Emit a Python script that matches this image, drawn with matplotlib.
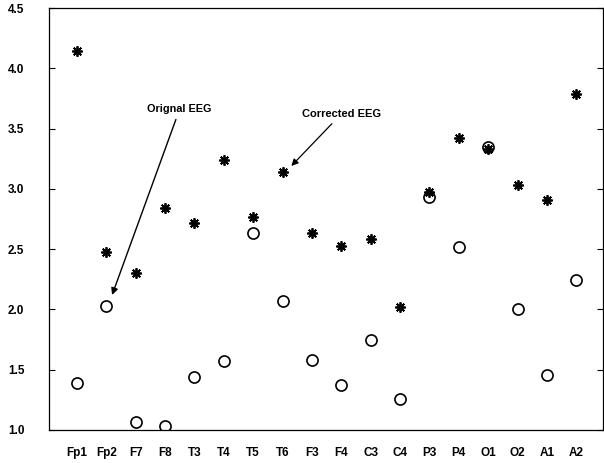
import matplotlib
matplotlib.use("Agg")
import matplotlib.pyplot as plt
import numpy as np

channels = ["Fp1", "Fp2", "F7", "F8", "T3", "T4", "T5", "T6", "F3", "F4",
            "C3", "C4", "P3", "P4", "O1", "O2", "A1", "A2"]
corrected = [4.14, 2.48, 2.30, 2.84, 2.72, 3.24, 2.77, 3.14, 2.63, 2.53,
             2.58, 2.02, 2.97, 3.42, 3.33, 3.03, 2.91, 3.79]
original = [1.39, 2.03, 1.07, 1.03, 1.44, 1.57, 2.63, 2.07, 1.58, 1.37,
            1.75, 1.26, 2.93, 2.52, 3.35, 2.00, 1.46, 2.24]
yticks = [1.0, 1.5, 2.0, 2.5, 3.0, 3.5, 4.0, 4.5]

plt.rcParams['font.family'] = ['Liberation Sans', 'DejaVu Sans']

fig = plt.figure(figsize=(6.04, 4.63), dpi=100)
ax = fig.add_axes([0.081, 0.0713, 0.917, 0.9114])

x = np.arange(len(channels))
ax.plot(x, original, linestyle='none', marker='o', markersize=8,
        markerfacecolor='none', markeredgecolor='black', markeredgewidth=1.2)
ax.plot(x, corrected, linestyle='none', marker=(8, 2, 0), markersize=7.5,
        markeredgecolor='black', markeredgewidth=1.3, color='black')

ax.set_xlim(-0.95, 17.9)
ax.set_ylim(1.0, 4.5)
ax.set_yticks(yticks)
ax.set_yticklabels([f"{v:.1f}" for v in yticks], fontsize=8.5, fontweight='bold')
ax.set_xticks(x)
ax.set_xticklabels(channels, fontsize=8.5, fontweight='bold')
ax.set_xticks(x[1::2], minor=True)
ax.tick_params(axis='x', which='major', length=0, pad=12)
ax.tick_params(axis='x', which='minor', direction='in', length=4, top=True, bottom=True)
ax.tick_params(axis='y', which='major', direction='in', length=4, left=True, right=True, pad=29.5)
for lbl in ax.get_yticklabels():
    lbl.set_horizontalalignment('left')
for s in ax.spines.values():
    s.set_linewidth(0.9)

ax.annotate("Orignal EEG", xy=(1.2, 2.12), xytext=(3.5, 3.62),
            ha='center', va='bottom', fontsize=7.8, fontweight='bold',
            arrowprops=dict(arrowstyle='-|>', color='black', lw=1.0,
                            shrinkA=2, shrinkB=0, mutation_scale=10))
ax.annotate("Corrected EEG", xy=(7.3, 3.19), xytext=(9.0, 3.58),
            ha='center', va='bottom', fontsize=8, fontweight='bold',
            arrowprops=dict(arrowstyle='-|>', color='black', lw=0.9,
                            shrinkA=2, shrinkB=0, mutation_scale=10))

fig.savefig("out.png", dpi=100)
